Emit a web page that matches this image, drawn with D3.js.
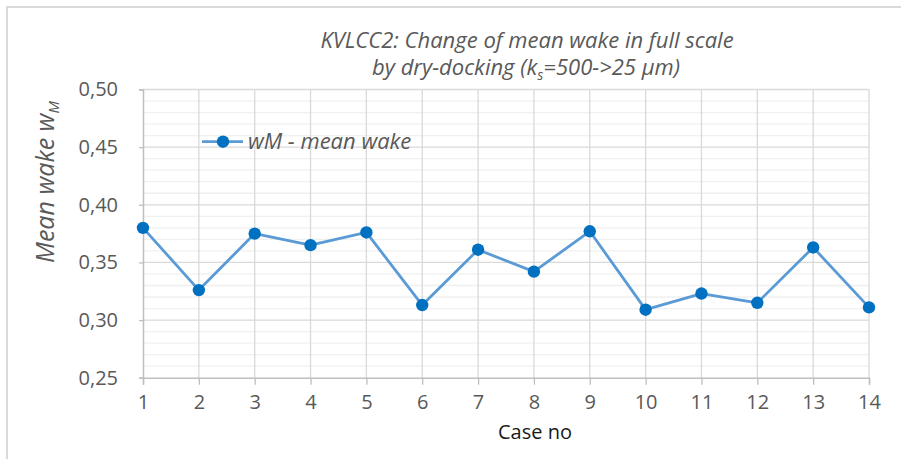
<!DOCTYPE html>
<html>
<head>
<meta charset="utf-8">
<script src="https://cdn.jsdelivr.net/npm/d3@7"></script>
<style>
html,body{margin:0;padding:0;background:#fff;}
svg{display:block;}
text{font-family:"Open Sans","Liberation Sans",sans-serif;}
</style>
</head>
<body>
<svg id="chart" width="901" height="459"></svg>
<script>
const cases = [1,2,3,4,5,6,7,8,9,10,11,12,13,14];
const meanWake = [0.380,0.326,0.375,0.365,0.376,0.313,0.361,0.342,0.377,0.309,0.323,0.315,0.363,0.311];
const yTicks = [0.25,0.30,0.35,0.40,0.45,0.50];
const seriesName = "wM - mean wake";
const titleLines = ["KVLCC2: Change of mean wake in full scale", "by dry-docking (k", "s", "=500->25 µm)"];

(function(){
const svg = d3.select("#chart");
const W = 901, H = 459;
const pLeft = 143, pRight = 869, pTop = 89.5, pBottom = 377.7;

// outer chart border
svg.append("rect").attr("x",7).attr("y",7).attr("width",W+10).attr("height",H+10)
  .attr("fill","none").attr("stroke","#d9d9d9").attr("stroke-width",2);

const x = d3.scaleLinear().domain([1,14]).range([pLeft,pRight]);
const y = d3.scaleLinear().domain([0.25,0.50]).range([pBottom,pTop]);

// minor horizontal grid
const minor = d3.range(0.25,0.5001,0.01).map(v=>+v.toFixed(2)).filter(v=>!yTicks.some(t=>Math.abs(t-v)<1e-6));
svg.append("g").selectAll("line").data(minor).join("line")
  .attr("x1",pLeft).attr("x2",pRight).attr("y1",d=>y(d)).attr("y2",d=>y(d))
  .attr("stroke","#f0f0f0").attr("stroke-width",1.3);

// major horizontal grid
svg.append("g").selectAll("line").data(yTicks.slice(1)).join("line")
  .attr("x1",pLeft).attr("x2",pRight).attr("y1",d=>y(d)).attr("y2",d=>y(d))
  .attr("stroke","#d9d9d9").attr("stroke-width",1.3);

// vertical grid
svg.append("g").selectAll("line").data(cases.slice(1)).join("line")
  .attr("x1",d=>x(d)).attr("x2",d=>x(d)).attr("y1",pTop).attr("y2",pBottom)
  .attr("stroke","#d9d9d9").attr("stroke-width",1.3);

// x axis
const xAxis = d3.axisBottom(x).tickValues(cases).tickSize(7).tickPadding(10).tickFormat(d3.format("d"));
const gx = svg.append("g").attr("transform",`translate(0,${pBottom})`).call(xAxis);
gx.select(".domain").attr("stroke","#bfbfbf").attr("stroke-width",1.5);
gx.selectAll(".tick line").attr("stroke","#bfbfbf").attr("stroke-width",1.3);
gx.selectAll(".tick text").attr("fill","#595959").attr("font-size",20);

// y axis
const yAxis = d3.axisLeft(y).tickValues(yTicks).tickSize(4).tickPadding(21)
  .tickFormat(d=>d3.format(".2f")(d).replace(".",","));
const gy = svg.append("g").attr("transform",`translate(${pLeft},0)`).call(yAxis);
gy.select(".domain").attr("stroke","#bfbfbf").attr("stroke-width",1.5);
gy.selectAll(".tick line").attr("stroke","#bfbfbf").attr("stroke-width",1.3);
gy.selectAll(".tick text").attr("fill","#595959").attr("font-size",20);

// line
const line = d3.line().x((d,i)=>x(cases[i])).y(d=>y(d));
svg.append("path").datum(meanWake).attr("d",line)
  .attr("fill","none").attr("stroke","#5b9bd5").attr("stroke-width",2.8).attr("stroke-linejoin","round");
svg.append("g").selectAll("circle").data(meanWake).join("circle")
  .attr("cx",(d,i)=>x(cases[i])).attr("cy",d=>y(d)).attr("r",6.2).attr("fill","#0070c0");

// legend
const lg = svg.append("g").attr("transform","translate(202,141.7)");
lg.append("line").attr("x1",0).attr("x2",41).attr("y1",0).attr("y2",0).attr("stroke","#5b9bd5").attr("stroke-width",2.8);
lg.append("circle").attr("cx",21).attr("cy",0).attr("r",6.2).attr("fill","#0070c0");
lg.append("text").attr("x",46).attr("y",7.5).attr("font-size",22).attr("font-style","italic").attr("fill","#595959").text(seriesName);

// title
const t = svg.append("text").attr("text-anchor","middle").attr("font-size",22).attr("font-style","italic").attr("fill","#595959");
t.append("tspan").attr("x",527).attr("y",48).text(titleLines[0]);
const t2 = t.append("tspan").attr("x",526).attr("y",75);
t2.text(titleLines[1]);
t.append("tspan").attr("font-size",14).attr("dy",5).text(titleLines[2]);
t.append("tspan").attr("dy",-5).text(titleLines[3]);

// y axis title
const yt = svg.append("text").attr("transform","translate(54,182) rotate(-90)")
  .attr("text-anchor","middle").attr("font-size",25).attr("font-style","italic").attr("fill","#595959");
yt.append("tspan").text("Mean wake w");
yt.append("tspan").attr("font-size",15).attr("dy",5).text("M");

// x axis title
svg.append("text").attr("x",535).attr("y",439).attr("text-anchor","middle")
  .attr("font-size",20).attr("fill","#1a1a1a").text("Case no");
})();
</script>
</body>
</html>
